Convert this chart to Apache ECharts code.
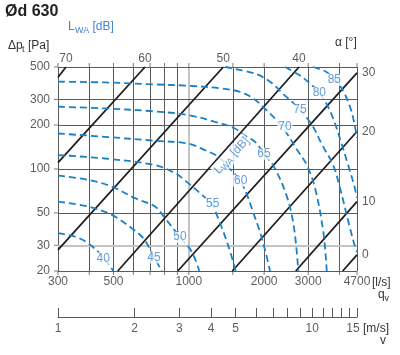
<!DOCTYPE html>
<html><head><meta charset="utf-8">
<script src="https://cdn.jsdelivr.net/npm/echarts@6/dist/echarts.min.js"></script>
<style>html,body{margin:0;padding:0;background:#fff}#c{width:400px;height:355px}</style>
</head><body><div id="c"></div>
<script>
// ---- axes / ticks ----
const qTicks = [300,400,500,600,700,800,900,1000,1500,2000,3000,4000,4700];
const qLabels = [300,500,1000,2000,3000,4700];
const pTicks = [20,30,50,100,200,300,500];
const pLabels = [20,30,50,100,200,300,500];
const vTicks = [1,2,3,4,5,6,7,8,9,10,11,12,13,14,15];
const vLabels = [1,2,3,4,5,10,15];
// ---- damper angle lines (alpha, deg) ----
const alpha = [70,60,50,40,30,20,10,0];
const alphaStart = [[300,425],[300,110.7],[300,27.9],[520,20],[903,20],[1492,20],[2674,20],[4121,20]];
const alphaEnd = [[323,500],[668,500],[1373,500],[2756,500],[4700,455],[4700,180.7],[4700,59.8],[4700,25.8]];
// ---- sound power contours L_WA [dB] ----
const lwa = [40,45,50,55,60,65,70,75,80,85];
const lwa40 = [[300,36.3],[351,34.4],[396,31.0],[459,24.4],[499,20]];
const lwa45 = [[300,59.8],[396,55.3],[492,48.5],[591,39.3],[658,33.5],[726,25.0],[779,20]];
const lwa50 = [[300,90.2],[396,84.3],[492,75.8],[609,63.1],[733,55.3],[803,46.0],[922,34.2],[1027,27.1],[1101,20]];
const lwa55 = [[300,124.5],[462,118],[733,106.3],[880,93.7],[995,80.0],[1091,70.0],[1238,56.8],[1308,46.2],[1434,30.2],[1540,20]];
const lwa60 = [[300,175.1],[462,166.2],[733,156.1],[995,149.5],[1160,134.7],[1312,121.2],[1434,103.5],[1602,83.6],[1708,66.5],[1805,50.8],[1925,37.0],[2016,27.9],[2111,20]];
const lwa65 = [[300,267],[462,260],[733,248],[995,234],[1272,210.6],[1529,189.5],[1677,168.9],[1839,153.6],[1997,127.1],[2190,103.5],[2468,64.4],[2633,39.5],[2739,20]];
const lwa70 = [[300,396.6],[462,392],[733,379.8],[995,372],[1353,356.6],[1627,334.8],[1839,298.4],[2034,254.7],[2251,214],[2468,174.3],[2706,135.4],[2959,106.8],[3195,73.9],[3447,37.2],[3558,20]];
const lwa75 = [[1395,500],[1839,450],[2111,396.6],[2379,328],[2782,254.7],[3136,194.7],[3407,146.5],[3769,106.8],[4021,73.9],[4407,39.3],[4615,29.4],[4700,27]];
const lwa80 = [[2423,500],[2860,422.4],[3315,333.3],[3567,275.7],[3804,214],[4057,153.6],[4328,106.8],[4573,77.9],[4700,63.4]];
const lwa85 = [[3136,500],[3534,464],[3839,409],[4133,344],[4407,267],[4573,210.6],[4700,163.6]];
const lwaLabelPos = [[455,24.4],[726,24.8],[922,34.1],[1246,57.7],[1612,83.3],[1997,127],[2423,195.6],[2782,254.7],[3324,331.7],[3816,409]];
const lwaNamePos = [1484,123.5];

const FONT = '"Liberation Sans", Arial, sans-serif';
const GRID = '#5a5a5a', GREY = '#c4c4c4', BLUE = '#1c80c6', BLUE_T = '#3f86cf', TXT = '#333';
const curves = [lwa40,lwa45,lwa50,lwa55,lwa60,lwa65,lwa70,lwa75,lwa80,lwa85];

const chart = echarts.init(document.getElementById('c'), null, {renderer:'canvas'});
const series = [];
const gl = (axis, v, grey) => ({[axis]: v, lineStyle: {color: grey ? GREY : GRID, width: grey ? 2 : 1, type: 'solid'}});
const txt = {color: TXT, fontSize: 12, fontFamily: FONT};

// grid lines + x labels
series.push({type:'scatter', xAxisIndex:0, yAxisIndex:0, silent:true, clip:false, z:1, symbolSize:0,
  data: qLabels.map(v => [v,20]),
  label: Object.assign({show:true, position:'bottom', distance:5, formatter: p => String(p.value[0])}, txt),
  markLine: {silent:true, symbol:['none','none'], label:{show:false}, animation:false, z:1,
    data: [...qTicks.map(v => gl('xAxis', v, v === 1000)), ...pTicks.map(v => gl('yAxis', v, v === 30))]}
});
// y labels
series.push({type:'scatter', xAxisIndex:0, yAxisIndex:0, silent:true, clip:false, symbolSize:0,
  data: pLabels.map(v => [300,v]),
  label: Object.assign({show:true, position:'left', distance:8, formatter: p => String(p.value[1])}, txt)
});
// small outward ticks
const tickS = (data, size, off) => ({type:'scatter', xAxisIndex:0, yAxisIndex:0, silent:true, clip:false, symbol:'rect',
  symbolSize:size, symbolOffset:off, itemStyle:{color:GRID}, data});
series.push(tickS(qTicks.map(v => [v,20]), [1,4], [0,2]));
series.push(tickS(qTicks.map(v => [v,500]), [1,4], [0,-2]));
series.push(tickS(pTicks.map(v => [300,v]), [4,1], [-2,0]));

// angle lines
alpha.forEach((a, i) => {
  series.push({type:'line', xAxisIndex:0, yAxisIndex:0, silent:true, symbol:'none', z:3,
    data:[alphaStart[i], alphaEnd[i]], lineStyle:{color:'#1e1e1e', width:1.8}});
});
series.push({type:'scatter', xAxisIndex:0, yAxisIndex:0, silent:true, clip:false, symbolSize:0,
  data: alphaEnd.map((p, i) => ({value:p, label:{position: p[1] >= 500 ? 'top' : 'right', distance: p[1] >= 500 ? 2 : 5}})),
  label: Object.assign({show:true, formatter: p => String(alpha[p.dataIndex])}, txt)
});
// contours
curves.forEach((c, i) => {
  series.push({type:'line', xAxisIndex:0, yAxisIndex:0, silent:true, symbol:'none', smooth:0.35, z:4,
    data:c, lineStyle:{color:BLUE, width:1.8, type:[7,4]}});
});
series.push({type:'scatter', xAxisIndex:0, yAxisIndex:0, silent:true, clip:false, symbolSize:0, z:6,
  data: lwaLabelPos,
  label:{show:true, position:'inside', formatter: p => String(lwa[p.dataIndex]), color:BLUE_T, fontSize:12, fontFamily:FONT,
    backgroundColor:'#fff', padding:[0,1]}
});
series.push({type:'scatter', xAxisIndex:0, yAxisIndex:0, silent:true, clip:false, symbolSize:0, z:6,
  data: [lwaNamePos],
  label:{show:true, position:'inside', rotate:47, formatter:'{a|L}{s|WA}{a| [dB]}', backgroundColor:'#fff', padding:[0,1],
    rich:{a:{color:BLUE_T, fontSize:12, fontFamily:FONT}, s:{color:BLUE_T, fontSize:9, fontFamily:FONT, padding:[6,0,0,0]}}}
});
// velocity axis
series.push({type:'scatter', xAxisIndex:1, yAxisIndex:1, silent:true, clip:false, symbolSize:0,
  data: vLabels.map(v => (v === 15 ? {value:[v,0], label:{offset:[-4,0]}} : [v,0])),
  label: Object.assign({show:true, position:'bottom', distance:6, formatter: p => String(p.value[0])}, txt),
  markLine:{silent:true, symbol:['none','none'], label:{show:false}, animation:false,
    data: vTicks.map(v => ({xAxis:v, lineStyle:{color:GRID, width:1, type:'solid'}}))}
});

const T = (text, x, y, size, color, weight) => ({type:'text', x, y, silent:true,
  style:{text, font:(weight||'normal') + ' ' + size + 'px ' + FONT, fill:color, verticalAlign:'middle'}});

chart.setOption({
  animation:false,
  grid:[{left:58, top:67, width:299, height:204, show:false}, {left:58, top:308, width:299, height:9, show:false}],
  xAxis:[
    {type:'log', gridIndex:0, min:300, max:4700, axisLine:{show:false}, axisTick:{show:false}, axisLabel:{show:false}, splitLine:{show:false}},
    {type:'log', gridIndex:1, min:1, max:15, axisLine:{show:true, lineStyle:{color:GRID}}, axisTick:{show:false}, axisLabel:{show:false}, splitLine:{show:false}}
  ],
  yAxis:[
    {type:'log', gridIndex:0, min:20, max:500, axisLine:{show:false}, axisTick:{show:false}, axisLabel:{show:false}, splitLine:{show:false}},
    {type:'value', gridIndex:1, min:0, max:1, show:false}
  ],
  graphic:[
    T('Ød 630', 5, 12, 16, '#222', 'bold'),
    T('L', 68, 27, 12, BLUE_T), T('WA', 75, 30.5, 9, BLUE_T), T('[dB]', 92.5, 27, 12, BLUE_T),
    T('Δp', 8, 46, 12, TXT), T('t', 22, 49.5, 9, TXT), T('[Pa]', 28, 46, 12, TXT),
    T('α [°]', 335, 42.5, 12, TXT),
    T('[l/s]', 372, 282.7, 12, TXT), T('q', 378, 295, 12, TXT), T('v', 384.5, 298.5, 9, TXT),
    T('[m/s]', 363, 329, 12, TXT), T('v', 380, 341, 12, TXT)
  ],
  series
});
</script></body></html>
